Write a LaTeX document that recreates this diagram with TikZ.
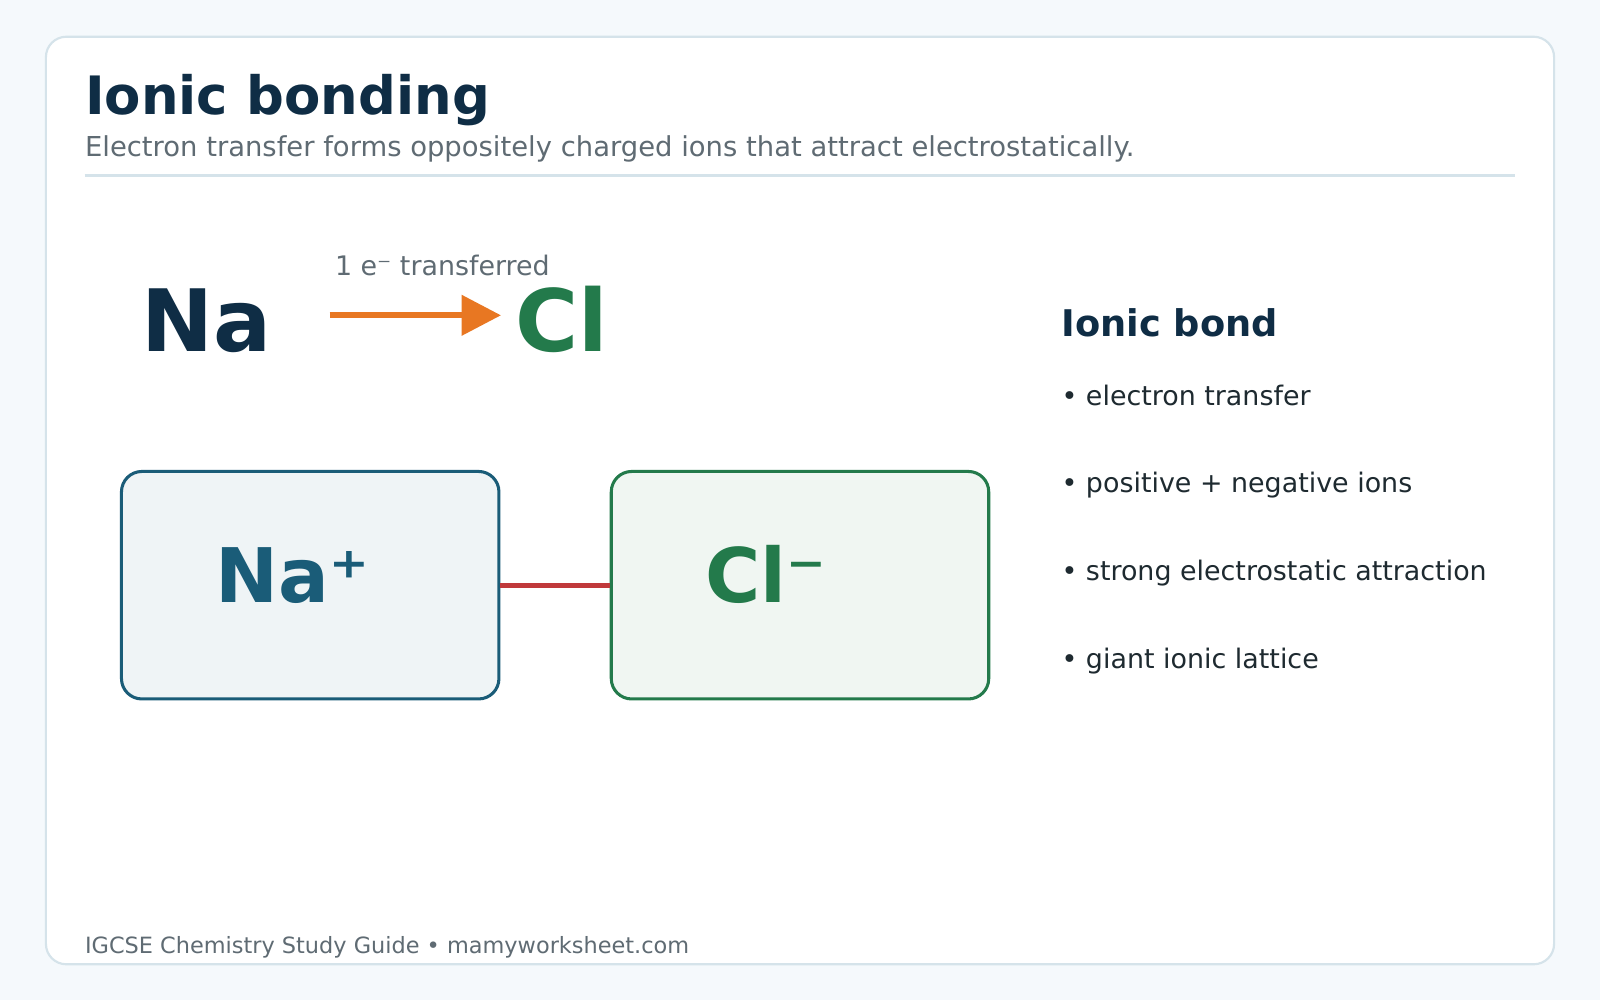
\documentclass[tikz,border=0pt]{standalone}
\usepackage{fontspec}
\setmainfont{DejaVu Sans}
\usetikzlibrary{arrows.meta}
\definecolor{pagebg}{HTML}{F5F9FC}
\definecolor{cardline}{HTML}{D5E3EA}
\definecolor{ink}{HTML}{0F2D45}
\definecolor{muted}{HTML}{5F6B73}
\definecolor{body}{HTML}{1E2A30}
\definecolor{naion}{HTML}{1A5C78}
\definecolor{clion}{HTML}{237A4B}
\definecolor{transfer}{HTML}{E87722}
\definecolor{bond}{HTML}{C0393B}
\tikzset{
  txt/.style={anchor=base west, inner sep=0pt},
  ionbox/.style={draw, line width=1.7pt, rounded corners=0.4cm, minimum width=7.4cm, minimum height=4.46cm},
  bullet/.style={txt, font=\fontsize{15}{18}\selectfont, text=body}
}
\begin{document}
\begin{tikzpicture}[x=0.02cm, y=-0.02cm]
	\fill[pagebg] (0,0) rectangle (1568,980);
	\useasboundingbox (0,0) rectangle (1568,980);
	\draw[cardline, line width=1.2pt, fill=white, rounded corners=0.4cm] (45,36) rectangle (1523,945);

	% heading
	\node[txt, font=\fontsize{29.5}{32}\bfseries\selectfont, text=ink] (title) at (83,112) {Ionic bonding};
	\node[txt, font=\fontsize{15.3}{18}\selectfont, text=muted] (subtitle) at (83,153)
	  {Electron transfer forms oppositely charged ions that attract electrostatically.};
	\draw[cardline, line width=1.2pt] (83,172) -- (1485,172);

	% atoms and transfer
	\node[txt, font=\fontsize{48}{50}\bfseries\selectfont, text=ink] (na) at (138,344) {Na};
	\node[txt, font=\fontsize{48}{50}\bfseries\selectfont, text=clion] (cl) at (505,344) {Cl};
	\node[txt, font=\fontsize{15}{18}\selectfont, text=muted] (elabel) at (328,270) {1 e⁻ transferred};
	\coordinate (from) at (323,309);
	\coordinate (to) at (491,309);
	\draw[transfer, line width=3.4pt, -{Triangle[length=22pt,width=22pt]}] (from) -- (to);

	% ions
	\node[ionbox, draw=naion, fill=naion!7] (nabox) at (304,573.5) {};
	\node[ionbox, draw=clion, fill=clion!7] (clbox) at (784,573.5) {};
	\node[txt, font=\fontsize{42}{44}\bfseries\selectfont, text=naion] (naplus) at (211,590) {Na⁺};
	\node[txt, font=\fontsize{42}{44}\bfseries\selectfont, text=clion] (clminus) at (691,590) {Cl⁻};
	\draw[bond, line width=3pt] (nabox.east) -- (clbox.west);

	% key points
	\node[txt, font=\fontsize{20.5}{24}\bfseries\selectfont, text=ink] (keyhead) at (1040,330) {Ionic bond};
	\foreach \y/\t in {397/electron transfer, 483/positive + negative ions,
	                   569/strong electrostatic attraction, 655/giant ionic lattice}
	    \node[bullet] at (1040,\y) {• \t};

	\node[txt, font=\fontsize{12.5}{15}\selectfont, text=muted] (footer) at (83,934)
	  {IGCSE Chemistry Study Guide • mamyworksheet.com};
\end{tikzpicture}
\end{document}
